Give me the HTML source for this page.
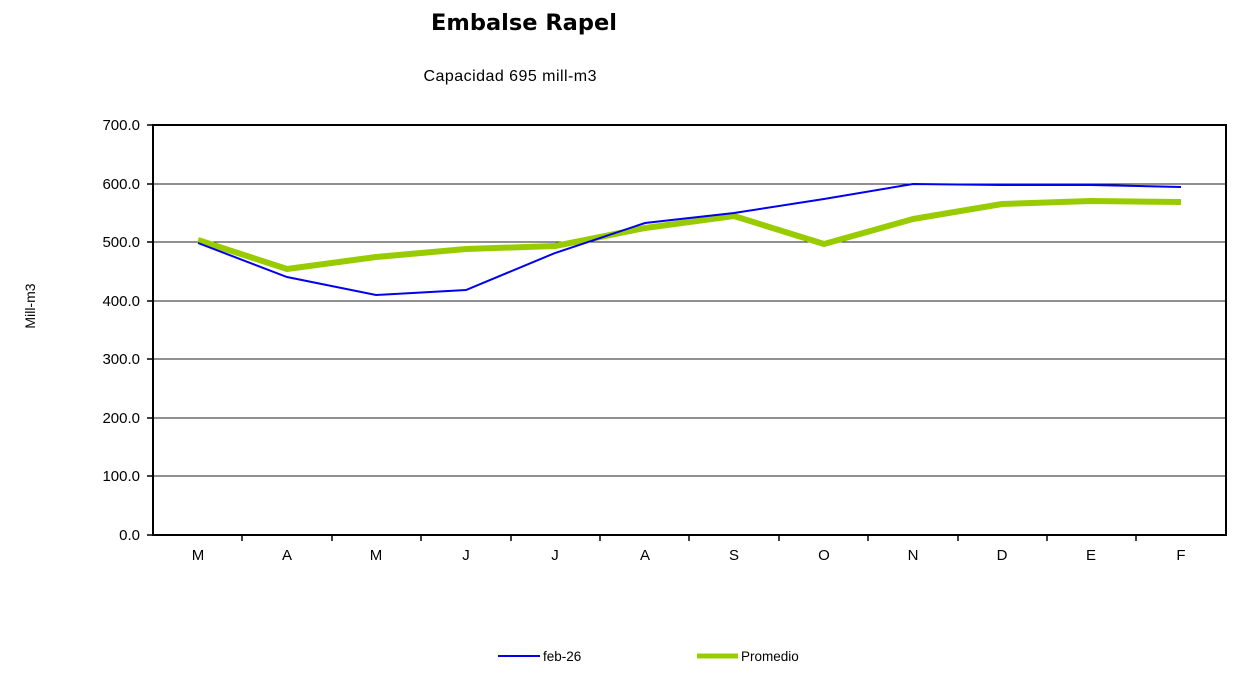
<!DOCTYPE html>
<html><head><meta charset="utf-8"><style>
body{margin:0;background:#fff;width:1245px;height:672px;overflow:hidden}
text{font-family:"Liberation Sans",Arial,sans-serif}
</style></head><body>
<svg width="1245" height="672" xmlns="http://www.w3.org/2000/svg">
<text x="524" y="30" font-size="22.5" font-weight="bold" text-anchor="middle" style="font-family:'DejaVu Sans',sans-serif">Embalse Rapel</text>
<text x="510" y="81" font-size="16" text-anchor="middle" textLength="173">Capacidad 695 mill-m3</text>
<text x="35" y="306" font-size="14" text-anchor="middle" transform="rotate(-90 35 306)">Mill-m3</text>
<g stroke="#222" stroke-width="1">
<line x1="153" y1="184" x2="1226" y2="184"/>
<line x1="153" y1="242" x2="1226" y2="242"/>
<line x1="153" y1="301" x2="1226" y2="301"/>
<line x1="153" y1="359" x2="1226" y2="359"/>
<line x1="153" y1="418" x2="1226" y2="418"/>
<line x1="153" y1="476" x2="1226" y2="476"/>
</g>
<rect x="153" y="125" width="1073" height="410" fill="none" stroke="#000" stroke-width="2"/>
<g stroke="#000" stroke-width="1.5">
<line x1="147" y1="125" x2="153" y2="125"/><line x1="147" y1="184" x2="153" y2="184"/><line x1="147" y1="242" x2="153" y2="242"/><line x1="147" y1="301" x2="153" y2="301"/><line x1="147" y1="359" x2="153" y2="359"/><line x1="147" y1="418" x2="153" y2="418"/><line x1="147" y1="476" x2="153" y2="476"/><line x1="147" y1="535" x2="153" y2="535"/>
<line x1="242" y1="535" x2="242" y2="541"/><line x1="332" y1="535" x2="332" y2="541"/><line x1="421" y1="535" x2="421" y2="541"/><line x1="511" y1="535" x2="511" y2="541"/><line x1="600" y1="535" x2="600" y2="541"/><line x1="689" y1="535" x2="689" y2="541"/><line x1="779" y1="535" x2="779" y2="541"/><line x1="868" y1="535" x2="868" y2="541"/><line x1="958" y1="535" x2="958" y2="541"/><line x1="1047" y1="535" x2="1047" y2="541"/><line x1="1136" y1="535" x2="1136" y2="541"/>
</g>
<g font-size="15" text-anchor="end">
<text x="140" y="130">700.0</text><text x="140" y="189">600.0</text><text x="140" y="247">500.0</text><text x="140" y="306">400.0</text><text x="140" y="364">300.0</text><text x="140" y="423">200.0</text><text x="140" y="481">100.0</text><text x="140" y="540">0.0</text>
</g>
<g font-size="15" text-anchor="middle">
<text x="198" y="560">M</text><text x="287" y="560">A</text><text x="376" y="560">M</text><text x="466" y="560">J</text><text x="555" y="560">J</text><text x="645" y="560">A</text><text x="734" y="560">S</text><text x="824" y="560">O</text><text x="913" y="560">N</text><text x="1002" y="560">D</text><text x="1091" y="560">E</text><text x="1181" y="560">F</text>
</g>
<polyline fill="none" stroke="#99cc00" stroke-width="6" stroke-linejoin="round" points="198,240 287,269 376,257 466,249 555,246 645,228 734,216 824,244 913,219 1002,204 1091,201 1181,202"/>
<polyline fill="none" stroke="#0000ee" stroke-width="2" points="198,243 287,277 376,295 466,290 555,253 645,223 734,213 824,199 913,184 1002,185 1091,185 1181,187"/>
<line x1="498" y1="656" x2="540" y2="656" stroke="#0000ee" stroke-width="2"/>
<text x="543" y="661" font-size="13.5">feb-26</text>
<line x1="697" y1="656" x2="738" y2="656" stroke="#99cc00" stroke-width="5"/>
<text x="741" y="661" font-size="13.5">Promedio</text>
</svg>
</body></html>
